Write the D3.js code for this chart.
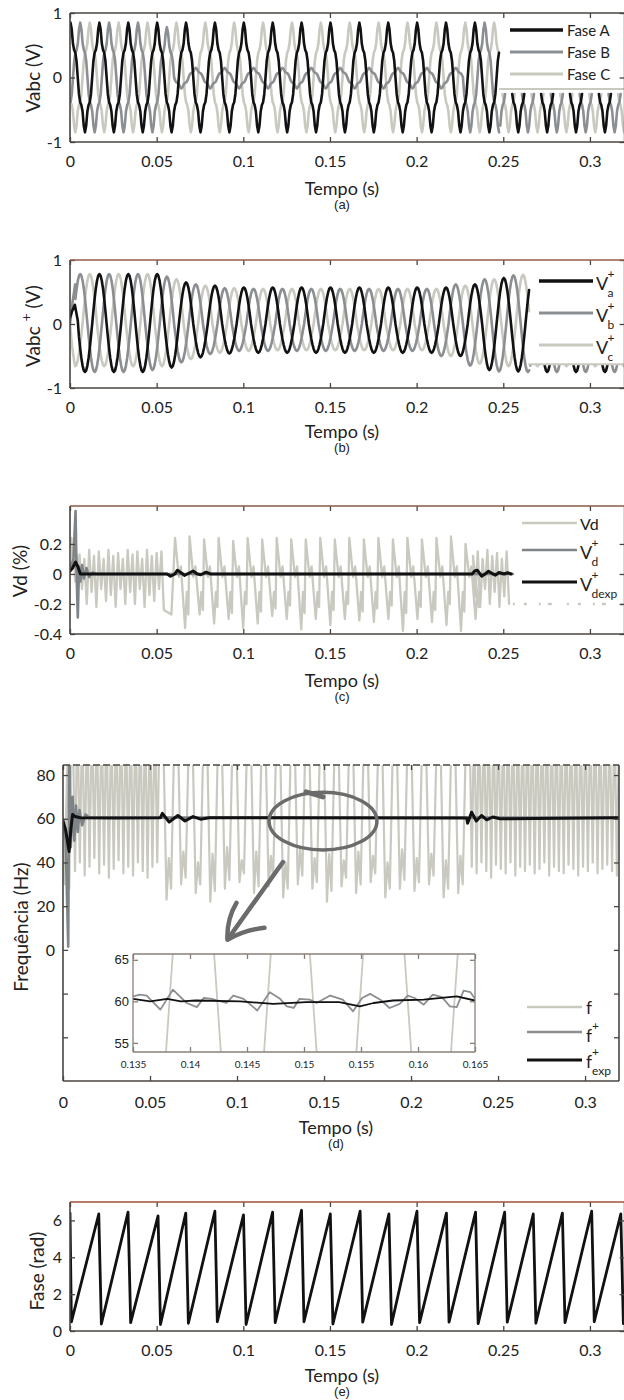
<!DOCTYPE html>
<html><head><meta charset="utf-8">
<script src="https://cdn.jsdelivr.net/npm/d3@7"></script>
<style>body{margin:0;background:#fff}svg{display:block}</style>
</head><body><script>
// ---------------- DATA ----------------
const gridFreq = 60;
const timeTicks = [0,0.05,0.1,0.15,0.2,0.25,0.3];
const timeTickLabels = ["0","0.05","0.1","0.15","0.2","0.25","0.3"];

// (a) Vabc
const aNames = ["Fase A","Fase B","Fase C"];
const aFirstPeak = [0.0003, 0.0059, 0.0114];
const aPeakA = [0.85,0.85,0.85,0.85,0.85,0.85,0.85,0.85,0.85,0.85,0.85,0.85,0.85,0.85,0.85,0.85,0.85,0.85,0.85,0.85];
const aTroughA = [-0.85,-0.85,-0.85,-0.85,-0.85,-0.85,-0.85,-0.85,-0.85,-0.85,-0.85,-0.85,-0.85,-0.85,-0.85,-0.85,-0.85,-0.85,-0.85,-0.85];
const aPeakB = [0.85,0.85,0.85,0.78,0.15,0.15,0.15,0.15,0.15,0.15,0.15,0.15,0.15,0.15,0.85,0.85,0.85,0.85,0.85,0.85];
const aTroughB = [-0.85,-0.85,-0.85,-0.17,-0.17,-0.17,-0.17,-0.17,-0.17,-0.17,-0.17,-0.17,-0.17,-0.85,-0.85,-0.85,-0.85,-0.85,-0.85,-0.85];
const aPeakC = [0.85,0.85,0.85,0.85,0.85,0.85,0.85,0.85,0.85,0.85,0.85,0.85,0.85,0.85,0.85,0.85,0.85,0.85,0.85,0.85];
const aTroughC = [-0.85,-0.85,-0.85,-0.85,-0.85,-0.85,-0.85,-0.85,-0.85,-0.85,-0.85,-0.85,-0.85,-0.85,-0.85,-0.85,-0.85,-0.85,-0.85,-0.85];
const aCycleShape = [1,0.88,0.62,0.5,0.45,0.3,0,-0.3,-0.45,-0.5,-0.62,-0.88,-1,-0.88,-0.62,-0.5,-0.45,-0.3,0,0.3,0.45,0.5,0.62,0.88];
const aCutTime = 0.248, aCutLevel = -0.18;

// (b) Vabc+
const bNames = ["a","b","c"];
const bFirstPeak = [0.0003, 0.0059, 0.0114];
const bStartA = [[0,0.1],[0.0012,0.2],[0.0028,0.3],[0.0045,0.05]];
const bStartB = [[0,0],[0.0015,0.35],[0.003,0.62]];
const bStartC = [[0,0],[0.0012,-0.35],[0.0025,-0.6]];
const bStartTime = [0.0045, 0.003, 0.0025];
const bPeakA = [0.3,0.78,0.78,0.78,0.65,0.6,0.57,0.57,0.57,0.57,0.57,0.57,0.57,0.57,0.62,0.72,0.75,0.75,0.75,0.75];
const bTroughA = [-0.75,-0.75,-0.75,-0.68,-0.52,-0.46,-0.45,-0.45,-0.45,-0.45,-0.45,-0.45,-0.45,-0.5,-0.72,-0.74,-0.75,-0.75,-0.75,-0.75];
const bPeakB = [0.78,0.78,0.78,0.74,0.62,0.56,0.55,0.55,0.55,0.55,0.55,0.55,0.55,0.62,0.7,0.76,0.76,0.76,0.76,0.76];
const bTroughB = [-0.75,-0.75,-0.72,-0.6,-0.47,-0.42,-0.42,-0.42,-0.42,-0.42,-0.42,-0.42,-0.5,-0.65,-0.74,-0.75,-0.75,-0.75,-0.75,-0.75];
const bPeakC = [0.78,0.78,0.78,0.7,0.6,0.56,0.55,0.55,0.55,0.55,0.55,0.55,0.55,0.6,0.7,0.77,0.77,0.77,0.77,0.77];
const bTroughC = [-0.66,-0.66,-0.66,-0.55,-0.45,-0.42,-0.41,-0.41,-0.41,-0.41,-0.41,-0.41,-0.5,-0.62,-0.66,-0.66,-0.66,-0.66,-0.66,-0.66];
const sineShape = [1,0.966,0.866,0.707,0.5,0.259,0,-0.259,-0.5,-0.707,-0.866,-0.966,-1,-0.966,-0.866,-0.707,-0.5,-0.259,0,0.259,0.5,0.707,0.866,0.966];
const bCutTime = 0.265, bCutLevel = -0.63;

// (c) Vd
const vdStart = [[0,0.18],[0.0008,0.24],[0.0015,0.05],[0.0022,0.17],[0.003,-0.05],[0.004,0.12],[0.005,-0.08]];
const vdEarlyT0 = 0.0055, vdEarlyStep = 0.00278;
const vdEarlyHigh = [0.13,0.1,0.16,0.12,0.15,0.1,0.16,0.12,0.14,0.1,0.16,0.13,0.15,0.1,0.16,0.12,0.14,0.15];
const vdEarlyLow = [-0.1,-0.2,-0.12,-0.22,-0.1,-0.18,-0.14,-0.22,-0.1,-0.2,-0.12,-0.2,-0.1,-0.22,-0.14,-0.18,-0.1,-0.24];
const vdMidT0 = 0.0606, vdMidStep = 0.00838;
const vdMidHigh = [0.24,0.25,0.23,0.24,0.22,0.24,0.23,0.24,0.23,0.23,0.24,0.23,0.24,0.23,0.24,0.23,0.24,0.23,0.24,0.25,0.2];
const vdMidLow = [-0.36,-0.27,-0.33,-0.3,-0.36,-0.33,-0.28,-0.3,-0.37,-0.3,-0.34,-0.3,-0.31,-0.32,-0.3,-0.38,-0.3,-0.32,-0.34,-0.38,-0.3];
const vdMidPre = [-0.27,-0.24,-0.22,-0.26,-0.2,-0.25,-0.23,-0.21,-0.26,-0.22,-0.24,-0.2,-0.25,-0.23,-0.21,-0.26,-0.22,-0.24,-0.2,-0.25,-0.22];
const vdMidOffsets = [0, 0.0022, 0.0034, 0.0058, 0.0068, 0.0077];
const vdMidInner = [-0.02, 0.05, -0.12];
const vdLateT0 = 0.2325, vdLateStep = 0.00278;
const vdLateHigh = [0.12,0.15,0.1,0.16,0.12,0.14,0.1,0.15];
const vdLateLow = [-0.15,-0.22,-0.1,-0.2,-0.12,-0.22,-0.15,-0.2];
const vdEnd = 0.2555;
const vdTailLevel = -0.2;
const vdPlus = [[0,0.03],[0.002,0.1],[0.0032,0.42],[0.0038,0.0],[0.0045,-0.29],[0.0052,0.05],[0.006,-0.05],[0.007,0.06],[0.008,-0.03],[0.0095,0.04],[0.011,-0.02],[0.013,0.01],[0.015,0],[0.2555,0]];
const vdExp = [[0,0.02],[0.0015,0.04],[0.0032,0.08],[0.0045,0.05],[0.006,0.0],[0.056,0.0],[0.058,-0.015],[0.0605,0.0],[0.062,0.025],[0.0645,0.005],[0.066,-0.01],[0.0685,0.005],[0.071,0.02],[0.0735,0.0],[0.0755,-0.005],[0.0785,0.012],[0.081,0.0],[0.232,0.0],[0.2335,0.02],[0.235,0.025],[0.2375,-0.015],[0.2395,0.0],[0.2415,0.018],[0.244,0.0],[0.2455,-0.008],[0.2475,0.01],[0.2505,0.0],[0.2525,0.008],[0.2545,0.0]];

// (d) frequency
const fStart = [[0,58],[0.0008,30],[0.0018,62],[0.0028,95],[0.0036,28],[0.0046,95]];
const fEarlyT0 = 0.0069, fEarlyStep = 0.00278;
const fEarlyLow = [36,40,34,38,42,35,39,33,37,41,35,38,34,40,36,33,38,40];
const fMidT0 = 0.0608, fMidStep = 0.00838;
const fMidLowA = [23,30,26,22,28,31,26,29,24,30,28,22,29,26,31,24,28,27,30,24,26];
const fMidHump = [42,45,40,44,47,41,45,43,40,46,42,44,41,45,43,40,46,42,44,41,43];
const fMidLowB = [28,33,30,27,32,35,29,33,28,34,31,27,33,30,35,28,32,31,34,28,30];
const fMidOffsets = [-0.0035, -0.0013, 0, 0.0013, 0.0035];
const fLateT0 = 0.2349, fLateStep = 0.00278;
const fLateLow = [38,35,40,36,33,39,37,35,40,34,38,36,39,35,37,40,34,38,36,35,39,37,34,38,36,40,35,37,39,36,34];
const fHigh = 110;
const fPlus = [[0,60],[0.0015,50],[0.003,1.5],[0.0036,95],[0.0045,47],[0.0055,70],[0.0065,50],[0.0075,66],[0.0085,54],[0.0095,64],[0.011,57],[0.013,62],[0.015,60.5],[0.32,60.5]];
const fExp = [[0,59],[0.0015,55],[0.0035,45],[0.0045,55],[0.0055,62],[0.007,61],[0.01,60.5],[0.03,60.3],[0.056,60.5],[0.0571,62.5],[0.061,58.5],[0.066,61.5],[0.0701,59],[0.0747,61],[0.079,59.8],[0.084,60.5],[0.232,60.3],[0.2325,58],[0.2348,63],[0.2375,59],[0.2405,61.5],[0.2435,59.5],[0.247,60.8],[0.251,60],[0.32,60.5]];
const insetFT = [0.134,0.1367,0.1397,0.1409,0.1439,0.1453,0.1483,0.1493,0.1523,0.1534,0.1564,0.1576,0.1606,0.1617,0.1647,0.166];
const insetFV = [30,30,90,90,30,30,90,90,30,30,90,90,30,30,90,90];
const insetPlusT = [0.135,0.1356,0.1362,0.1374,0.1385,0.1397,0.1406,0.1412,0.1419,0.1432,0.1438,0.1447,0.1459,0.147,0.1479,0.1485,0.1491,0.1496,0.1505,0.1511,0.1523,0.1534,0.1543,0.1551,0.1558,0.1567,0.1575,0.1584,0.1591,0.1597,0.1605,0.1613,0.1621,0.1628,0.1634,0.164,0.1646,0.165];
const insetPlusV = [60.6,60.8,60.7,59.0,61.4,59.8,59.3,60.4,60.3,59.8,60.7,60.3,58.9,61.1,60.3,59.4,59.2,60.3,60.2,59.8,60.7,60.2,58.8,60.4,60.9,60.2,59.2,59.7,60.7,60.4,59.6,60.8,60.5,59.4,59.3,61.3,61.1,60.3];
const insetExpT = [0.135,0.1365,0.138,0.1392,0.1405,0.1444,0.1473,0.1502,0.1531,0.1549,0.1561,0.1578,0.1605,0.1634,0.165];
const insetExpV = [60.3,60.0,60.3,60.0,60.1,60.0,59.7,59.9,59.9,59.4,59.8,60.1,60.2,60.6,60.1];
const insetXTicks = [0.135,0.14,0.145,0.15,0.155,0.16,0.165];
const insetXLabels = ["0.135","0.14","0.145","0.15","0.155","0.16","0.165"];
const insetYTicks = [55,60,65];
const insetYLabels = ["55","60","65"];

// (e) phase
const eStart = [[0,6.4]];
const ePeakT = [0.0166,0.0335,0.0508,0.0668,0.0836,0.1001,0.1169,0.1336,0.1502,0.1674,0.1840,0.2002,0.2172,0.2340,0.2508,0.2673,0.2841,0.3010,0.3178];
const ePeakV = [6.35,6.45,6.25,6.4,6.5,6.3,6.45,6.55,6.35,6.5,6.35,6.5,6.4,6.45,6.45,6.35,6.4,6.5,6.35];
const eTroughT = [0.0008,0.0181,0.035,0.0522,0.0683,0.085,0.1016,0.1184,0.135,0.1517,0.1689,0.1855,0.2017,0.2187,0.2355,0.2523,0.2688,0.2856,0.3025,0.3193];
const eTroughV = [0.5,0.38,0.45,0.35,0.42,0.5,0.35,0.45,0.5,0.38,0.48,0.35,0.45,0.48,0.4,0.48,0.42,0.45,0.5,0.4];

// ---------------- DRAWING ----------------
const FONT = "Lato, 'Open Sans', sans-serif";
const frameColor = "#4a4440";
const C_BLACK = "#111", C_GRAY = "#8b8f92", C_LIGHT = "#c9c9c0", C_ARROW = "#6b6b6b";
const svg = d3.select("body").append("svg").attr("width",624).attr("height",1400);
const defs = svg.append("defs");
let clipN = 0;

function panel(cfg){
  const x = d3.scaleLinear().domain(cfg.xDomain).range([cfg.left,cfg.right]);
  const y = d3.scaleLinear().domain(cfg.yDomain).range([cfg.bottom,cfg.top]);
  const id = "clip"+(clipN++);
  defs.append("clipPath").attr("id",id).append("rect")
    .attr("x",cfg.left).attr("y",cfg.top).attr("width",cfg.right-cfg.left).attr("height",cfg.bottom-cfg.top);
  const g = svg.append("g");
  const plot = g.append("g").attr("clip-path",`url(#${id})`);
  return {x,y,g,plot,cfg};
}
function axes(p){
  const c = p.cfg, ax = p.g.append("g");
  const bx = ax.append("g").attr("transform",`translate(0,${c.bottom})`)
    .call(d3.axisBottom(p.x).tickValues(c.xTicks).tickFormat((d,i)=>c.xLabels[i]).tickSize(-5).tickPadding(c.xPad||14));
  ax.append("g").attr("transform",`translate(0,${c.top})`)
    .call(d3.axisTop(p.x).tickValues(c.xTicks).tickFormat("").tickSize(-5));
  ax.append("g").attr("transform",`translate(${c.left},0)`)
    .call(d3.axisLeft(p.y).tickValues(c.yTicks).tickFormat((d,i)=>c.yLabels[i]).tickSize(-5).tickPadding(c.yPad||8));
  ax.append("g").attr("transform",`translate(${c.right},0)`)
    .call(d3.axisRight(p.y).tickValues(c.yTicks).tickFormat("").tickSize(-5));
  ax.selectAll(".domain").remove();
  ax.selectAll("line").attr("stroke",c.frame||frameColor).attr("stroke-width",1.3);
  ax.selectAll("text").attr("font-family",c.font||FONT).attr("font-size",c.fontSize||16).attr("fill","#222");
  if(c.xFont) bx.selectAll("text").attr("font-family",c.xFont).attr("font-size",c.xFontSize);
  const fr = ax.append("g").attr("fill","none").attr("stroke-width",c.frameW||1.6);
  fr.append("line").attr("x1",c.left).attr("x2",c.left).attr("y1",c.top).attr("y2",c.bottom).attr("stroke",c.frame||frameColor);
  fr.append("line").attr("x1",c.left).attr("x2",c.right).attr("y1",c.bottom).attr("y2",c.bottom).attr("stroke",c.frame||frameColor);
  fr.append("line").attr("x1",c.right).attr("x2",c.right).attr("y1",c.top).attr("y2",c.bottom).attr("stroke",c.frame||frameColor);
  const tl = fr.append("line").attr("x1",c.left).attr("x2",c.right).attr("y1",c.top).attr("y2",c.top).attr("stroke",c.topColor||c.frame||frameColor);
  if(c.topDash) tl.attr("stroke-dasharray",c.topDash);
  return ax;
}
function drawLine(p, pts, color, w, defined){
  const ln = d3.line().x(d=>p.x(d[0])).y(d=>p.y(d[1]));
  if(defined) ln.defined(defined);
  p.plot.append("path").attr("d",ln(pts)).attr("fill","none").attr("stroke",color)
    .attr("stroke-width",w).attr("stroke-linejoin","round").attr("stroke-linecap","round");
}
function buildWave(first, peaks, troughs, shape, tStart, tEnd){
  const T = 1/gridFreq, n = shape.length, pts = [], N = peaks.length;
  for(let k=-1;k<N;k++){
    for(let j=0;j<n;j++){
      const t = first + (k + j/n)*T;
      if(t < tStart || t > tEnd) continue;
      const s = shape[j];
      let v;
      if(s >= 0) v = s * peaks[Math.max(0, Math.min(N-1, j < n/2 ? k : k+1))];
      else v = -s * troughs[Math.max(0, Math.min(N-1, k))];
      pts.push([t, v]);
    }
  }
  return pts;
}
function zigzag(t0, step, highs, lows){
  const pts = [];
  for(let k=0;k<highs.length;k++){
    pts.push([t0 + k*step, highs[k]]);
    pts.push([t0 + (k+0.5)*step, lows[k]]);
  }
  return pts;
}
function vshape(t0, step, lows, high){
  const pts = [];
  for(let k=0;k<lows.length;k++){
    pts.push([t0 + (k-0.5)*step, high]);
    pts.push([t0 + k*step, lows[k]]);
  }
  pts.push([t0 + (lows.length-0.5)*step, high]);
  return pts;
}
function textAt(x,y,str,size,opts={}){
  const t = svg.append("text").attr("x",x).attr("y",y).text(str)
    .attr("font-family",opts.font||FONT).attr("font-size",size).attr("fill",opts.fill||"#222")
    .attr("text-anchor",opts.anchor||"start").attr("dominant-baseline","central");
  if(opts.rotate) t.attr("transform",`rotate(-90,${x},${y})`).attr("text-anchor","middle");
  return t;
}
function legendLine(x1,x2,y,color,w){
  svg.append("line").attr("x1",x1).attr("x2",x2).attr("y1",y).attr("y2",y).attr("stroke",color).attr("stroke-width",w);
}
function xTitle(x,y,letter){
  textAt(x,y,"Tempo (s)",18,{anchor:"middle"});
  textAt(x,y+16,letter,13,{anchor:"middle",font:"'Liberation Sans', Arial, sans-serif"});
}
function symbol(x,y,base,size,sup,sub,subSize){
  textAt(x,y,base,size);
  const w = base==="V" ? size*0.64 : size*0.36;
  if(sup) textAt(x+w,y-10,sup,12);
  if(sub) textAt(x+w,y+9,sub,subSize||12);
}

// ===== Panel (a)
{
  const p = panel({left:70,right:624.6,top:13,bottom:142,xDomain:[0,0.32],yDomain:[-1,1],
    xTicks:timeTicks,xLabels:timeTickLabels,yTicks:[-1,0,1],yLabels:["-1","0","1"]});
  const waves = [
    [aFirstPeak[2],aPeakC,aTroughC,C_LIGHT],
    [aFirstPeak[1],aPeakB,aTroughB,C_GRAY],
    [aFirstPeak[0],aPeakA,aTroughA,C_BLACK]];
  waves.forEach(w=>{
    const pts = buildWave(w[0],w[1],w[2],aCycleShape,0,0.325);
    drawLine(p, pts.filter(d=>d[0]<=aCutTime), w[3], 2.6);
    drawLine(p, pts.filter(d=>d[0]>=aCutTime), w[3], 2.6, d=>d[1]<=aCutLevel);
  });
  drawLine(p, [[aCutTime,aCutLevel],[0.325,aCutLevel]], C_LIGHT, 2);
  axes(p);
  textAt(32,78,"Vabc (V)",19,{rotate:true});
  xTitle(342,188,"(a)");
  const cols=[C_BLACK,C_GRAY,C_LIGHT];
  aNames.forEach((n,i)=>{ legendLine(510,563,30+i*22,cols[i],i==0?3.4:2.8); textAt(567,30+i*22,n,15); });
}
// ===== Panel (b)
{
  const p = panel({left:70,right:624.6,top:260,bottom:388,xDomain:[0,0.32],yDomain:[-1,1],
    xTicks:timeTicks,xLabels:timeTickLabels,yTicks:[-1,0,1],yLabels:["-1","0","1"],topColor:"#9a5a4a"});
  const waves = [
    [bFirstPeak[2],bPeakC,bTroughC,bStartC,bStartTime[2],C_LIGHT],
    [bFirstPeak[1],bPeakB,bTroughB,bStartB,bStartTime[1],C_GRAY],
    [bFirstPeak[0],bPeakA,bTroughA,bStartA,bStartTime[0],C_BLACK]];
  waves.forEach(w=>{
    const pts = w[3].concat(buildWave(w[0],w[1],w[2],sineShape,w[4],0.325));
    drawLine(p, pts.filter(d=>d[0]<=bCutTime), w[5], 2.6);
    drawLine(p, pts.filter(d=>d[0]>=bCutTime), w[5], 2.6, d=>d[1]<=bCutLevel);
  });
  drawLine(p, [[bCutTime,bCutLevel],[0.325,bCutLevel]], C_LIGHT, 2);
  axes(p);
  const yl = svg.append("text").attr("transform","translate(32,326) rotate(-90)").attr("text-anchor","middle")
    .attr("font-family",FONT).attr("font-size",19).attr("fill","#222").attr("dominant-baseline","central");
  yl.append("tspan").text("Vabc ");
  yl.append("tspan").text("+").attr("font-size",14).attr("dy",-7);
  yl.append("tspan").text(" (V)").attr("dy",7);
  xTitle(342,431,"(b)");
  const cols=[C_BLACK,C_GRAY,C_LIGHT];
  bNames.forEach((n,i)=>{
    const yy = 281+i*32;
    legendLine(539,593,yy,cols[i],i==0?3.4:2.8);
    symbol(596,yy+2,"V",18,"+",n);
  });
}
// ===== Panel (c)
{
  const p = panel({left:70,right:624.6,top:506,bottom:634,xDomain:[0,0.32],yDomain:[-0.4,0.453],
    xTicks:timeTicks,xLabels:timeTickLabels,yTicks:[-0.4,-0.2,0,0.2],yLabels:["-0.4","-0.2","0","0.2"],topColor:"#8a5a4a"});
  const mid = [];
  vdMidHigh.forEach((h,k)=>{
    const c = vdMidT0 + k*vdMidStep;
    const vals = [h, vdMidInner[0], vdMidInner[1], vdMidLow[k], vdMidInner[2], vdMidPre[k]];
    vdMidOffsets.forEach((o,j)=>mid.push([c+o, vals[j]]));
  });
  const vd = vdStart.concat(zigzag(vdEarlyT0,vdEarlyStep,vdEarlyHigh,vdEarlyLow))
    .concat([[0.0585,-0.27]])
    .concat(mid)
    .concat(zigzag(vdLateT0,vdLateStep,vdLateHigh,vdLateLow));
  drawLine(p, vd.filter(d=>d[0]<=vdEnd), C_LIGHT, 2.3);
  p.plot.append("line").attr("x1",p.x(vdEnd)).attr("x2",p.x(0.32)).attr("y1",p.y(vdTailLevel)).attr("y2",p.y(vdTailLevel))
    .attr("stroke",C_LIGHT).attr("stroke-width",2.5).attr("stroke-dasharray","2,9,3,12,2,7,4,15");
  drawLine(p, vdPlus, "#7f8488", 2.6);
  drawLine(p, vdExp, C_BLACK, 3);
  axes(p);
  textAt(19,571,"Vd (%)",19,{rotate:true});
  xTitle(342,680,"(c)");
  legendLine(522,577,523,C_LIGHT,2.6); textAt(580,523,"Vd",16);
  legendLine(522,577,550,"#7f8488",2.6); symbol(580,552,"V",18,"+","d");
  legendLine(522,577,582,C_BLACK,3.2); symbol(580,584,"V",18,"+","dexp");
}
// ===== Panel (d)
{
  const p = panel({left:63,right:619,top:765,bottom:1081,xDomain:[0,0.3195],yDomain:[-60,84.6],
    xTicks:timeTicks,xLabels:timeTickLabels,yTicks:[-40,-20,0,20,40,60,80],yLabels:["","","0","20","40","60","80"],
    xPad:16, topDash:"7,3"});
  const mid = [];
  fMidLowA.forEach((a,k)=>{
    const c = fMidT0 + k*fMidStep;
    const vals = [fHigh, a, fMidHump[k], fMidLowB[k], fHigh];
    fMidOffsets.forEach((o,j)=>mid.push([c+o, vals[j]]));
  });
  const f = fStart.concat(vshape(fEarlyT0,fEarlyStep,fEarlyLow,fHigh))
    .concat(mid)
    .concat(vshape(fLateT0,fLateStep,fLateLow,fHigh));
  drawLine(p, f, C_LIGHT, 2.2);
  drawLine(p, fPlus, "#7f8488", 2.6);
  drawLine(p, fExp, C_BLACK, 3);
  axes(p);
  // inset
  const q = panel({left:133,right:475,top:954,bottom:1052,xDomain:[0.135,0.165],yDomain:[53.9,65.7],
    xTicks:insetXTicks,xLabels:insetXLabels,yTicks:insetYTicks,yLabels:insetYLabels,
    frame:"#8a7f78",frameW:1.3,xPad:9,yPad:4,fontSize:13,font:"'Liberation Sans', Arial, sans-serif",
    xFont:FONT,xFontSize:10});
  q.plot.append("rect").attr("x",133).attr("y",954).attr("width",342).attr("height",98).attr("fill","#fff");
  drawLine(q, insetFT.map((t,i)=>[t,insetFV[i]]), C_LIGHT, 1.8);
  drawLine(q, insetPlusT.map((t,i)=>[t,insetPlusV[i]]), "#8b8f92", 1.8);
  drawLine(q, insetExpT.map((t,i)=>[t,insetExpV[i]]), C_BLACK, 1.8);
  axes(q);
  // annotation (data coordinates)
  const cx=p.x(0.1494), cy=p.y(58.9);
  svg.append("ellipse").attr("cx",cx).attr("cy",cy).attr("rx",p.x(0.031)-p.x(0)).attr("ry",p.y(0)-p.y(13.2))
    .attr("fill","none").attr("stroke",C_ARROW).attr("stroke-width",3.5);
  svg.append("line").attr("x1",p.x(0.1397)).attr("y1",p.y(72.3)).attr("x2",p.x(0.1494)).attr("y2",p.y(70)).attr("stroke",C_ARROW).attr("stroke-width",5).attr("stroke-linecap","round");
  const tip=[p.x(0.0945),p.y(4.6)], tail=[p.x(0.1264),p.y(40.2)];
  svg.append("line").attr("x1",tail[0]).attr("y1",tail[1]).attr("x2",tip[0]+2).attr("y2",tip[1]-3).attr("stroke",C_ARROW).attr("stroke-width",4.5).attr("stroke-linecap","round");
  svg.append("path").attr("d",`M${tip[0]+9},${tip[1]-37} Q${tip[0]-1},${tip[1]-20} ${tip[0]},${tip[1]} Q${tip[0]+17},${tip[1]-10} ${tip[0]+37},${tip[1]-12}`)
    .attr("fill","none").attr("stroke",C_ARROW).attr("stroke-width",4.5).attr("stroke-linecap","round").attr("stroke-linejoin","round");
  textAt(20,927,"Frequência (Hz)",19,{rotate:true});
  xTitle(336,1127,"(d)");
  legendLine(527,582,1007,C_LIGHT,2.6); textAt(586,1007,"f",17);
  legendLine(527,582,1032,"#8b8f92",2.6); symbol(586,1035,"f",17,"+",null);
  legendLine(527,582,1060,C_BLACK,3.2); symbol(586,1061,"f",17,"+","exp");
}
// ===== Panel (e)
{
  const p = panel({left:70,right:624.6,top:1202,bottom:1331,xDomain:[0,0.32],yDomain:[0,7],
    xTicks:timeTicks,xLabels:timeTickLabels,yTicks:[0,2,4,6],yLabels:["0","2","4","6"],topColor:"#a0503a"});
  const pts = eStart.slice();
  eTroughT.forEach((t,i)=>{ pts.push([t,eTroughV[i]]); if(i<ePeakT.length) pts.push([ePeakT[i],ePeakV[i]]); });
  drawLine(p, pts, C_BLACK, 2.8);
  axes(p);
  textAt(36,1271,"Fase (rad)",19,{rotate:true});
  xTitle(342,1375,"(e)");
}
</script></body></html>
